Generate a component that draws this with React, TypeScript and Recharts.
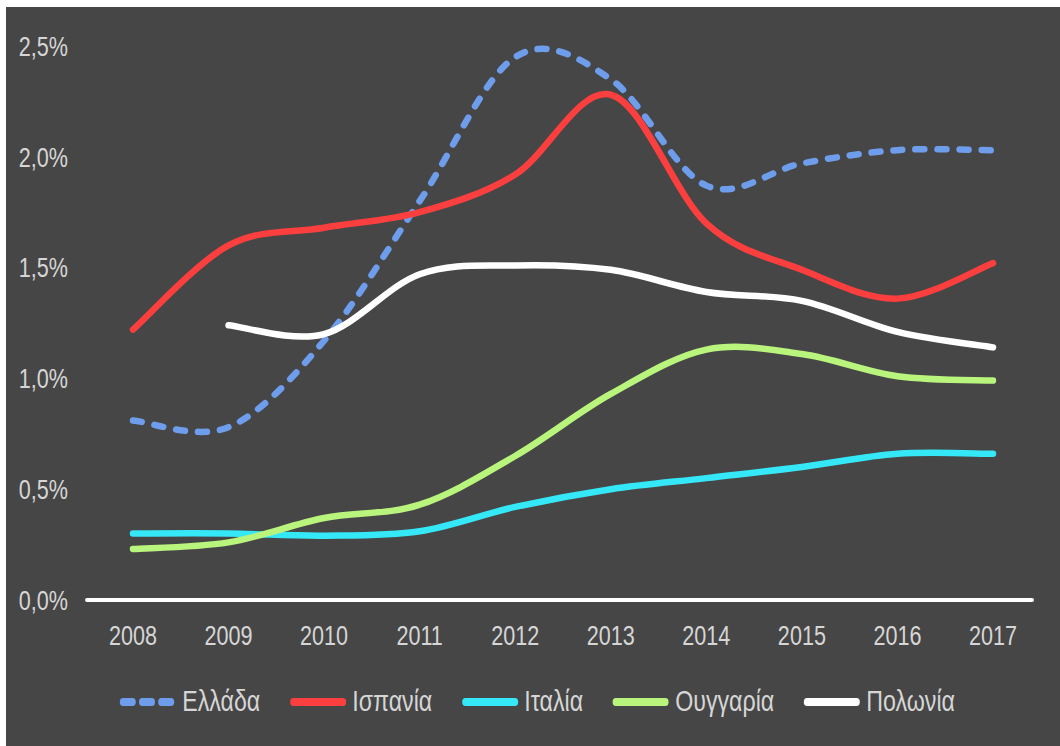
import React from "react";
import { LineChart, Line, XAxis, YAxis } from "recharts";

const years = ["2008", "2009", "2010", "2011", "2012", "2013", "2014", "2015", "2016", "2017"];
const greece = [0.81, 0.78, 1.17, 1.8, 2.45, 2.35, 1.87, 1.97, 2.03, 2.03];
const spain = [1.22, 1.6, 1.68, 1.75, 1.92, 2.28, 1.7, 1.49, 1.36, 1.52];
const italy = [0.3, 0.3, 0.29, 0.31, 0.42, 0.5, 0.55, 0.6, 0.66, 0.66];
const hungary = [0.23, 0.26, 0.37, 0.43, 0.65, 0.93, 1.13, 1.11, 1.01, 0.99];
const poland = [null, 1.24, 1.2, 1.47, 1.51, 1.49, 1.39, 1.35, 1.21, 1.14];
const yTicks = [0, 0.5, 1, 1.5, 2, 2.5];

const series = [
  { key: "greece", name: "Ελλάδα", color: "#6e9deb", dashed: true },
  { key: "spain", name: "Ισπανία", color: "#fb3f3f", dashed: false },
  { key: "italy", name: "Ιταλία", color: "#35e8f7", dashed: false },
  { key: "hungary", name: "Ουγγαρία", color: "#b9f47c", dashed: false },
  { key: "poland", name: "Πολωνία", color: "#ffffff", dashed: false },
];

const data = years.map((year, i) => ({
  year,
  greece: greece[i],
  spain: spain[i],
  italy: italy[i],
  hungary: hungary[i],
  poland: poland[i],
}));

const FONT = '"Liberation Sans", Arial, sans-serif';
const TEXT = "#d6d6d6";
const NARROW = 0.8; // the original uses a condensed face

// Excel-style smoothing (Catmull-Rom through every point)
const smoothCurve = (context: any) => {
  let pts: number[][] = [];
  return {
    areaStart() {},
    areaEnd() {},
    lineStart() {
      pts = [];
    },
    point(x: number, y: number) {
      pts.push([+x, +y]);
    },
    lineEnd() {
      if (!pts.length) return;
      context.moveTo(pts[0][0], pts[0][1]);
      for (let i = 0; i < pts.length - 1; i++) {
        const p0 = pts[Math.max(i - 1, 0)];
        const p1 = pts[i];
        const p2 = pts[i + 1];
        const p3 = pts[Math.min(i + 2, pts.length - 1)];
        context.bezierCurveTo(
          p1[0] + (p2[0] - p0[0]) / 6,
          p1[1] + (p2[1] - p0[1]) / 6,
          p2[0] - (p3[0] - p1[0]) / 6,
          p2[1] - (p3[1] - p1[1]) / 6,
          p2[0],
          p2[1]
        );
      }
    },
  };
};

const XTick = ({ x, y, payload }: any) => (
  <text
    transform={`translate(${x},${y}) scale(${NARROW},1)`}
    textAnchor="middle"
    dy="0.72em"
    fill={TEXT}
    fontSize={27}
    fontFamily={FONT}
  >
    {payload.value}
  </text>
);

const YTick = ({ x, y, payload }: any) => (
  <text
    transform={`translate(${x},${y}) scale(${NARROW},1)`}
    textAnchor="end"
    dy="0.36em"
    fill={TEXT}
    fontSize={27}
    fontFamily={FONT}
  >
    {payload.value.toFixed(1).replace(".", ",") + "%"}
  </text>
);

function LegendRow() {
  return (
    <div
      style={{
        position: "absolute",
        left: 119,
        top: 685,
        display: "flex",
        alignItems: "center",
        gap: 36,
        fontFamily: FONT,
        fontSize: 29,
        color: TEXT,
        whiteSpace: "nowrap",
        transform: `scaleX(${NARROW})`,
        transformOrigin: "left center",
      }}
    >
      {series.map((s) => (
        <div key={s.key} style={{ display: "flex", alignItems: "center", gap: 7 }}>
          <svg width={72} height={12}>
            <line
              x1={5}
              y1={6}
              x2={67}
              y2={6}
              stroke={s.color}
              strokeWidth={8}
              strokeLinecap="round"
              strokeDasharray={s.dashed ? "12 12" : undefined}
            />
          </svg>
          <span>{s.name}</span>
        </div>
      ))}
    </div>
  );
}

export default function App() {
  return (
    <div style={{ position: "absolute", left: 0, top: 0, width: 1060, height: 746, background: "#ffffff" }}>
      <div style={{ position: "absolute", left: 6, top: 7, right: 0, bottom: 0, background: "#464646" }} />
      <div style={{ position: "absolute", left: 0, top: 0 }}>
        <LineChart width={1060} height={680} data={data} margin={{ top: 46, right: 28, left: 0, bottom: 20 }}>
          <XAxis
            dataKey="year"
            height={60}
            padding={{ left: 46, right: 39 }}
            axisLine={{ stroke: "#ffffff", strokeWidth: 4, strokeLinecap: "round" }}
            tickLine={false}
            tickMargin={20}
            tick={<XTick />}
          />
          <YAxis
            width={87}
            domain={[0, 2.5]}
            ticks={yTicks}
            axisLine={false}
            tickLine={false}
            tickMargin={13}
            tick={<YTick />}
          />
          {series.map((s) => (
            <Line
              key={s.key}
              dataKey={s.key}
              name={s.name}
              type={smoothCurve as any}
              stroke={s.color}
              strokeWidth={6.5}
              strokeLinecap="round"
              strokeDasharray={s.dashed ? "9 13" : undefined}
              dot={false}
              activeDot={false}
              isAnimationActive={false}
            />
          ))}
        </LineChart>
      </div>
      <LegendRow />
    </div>
  );
}
